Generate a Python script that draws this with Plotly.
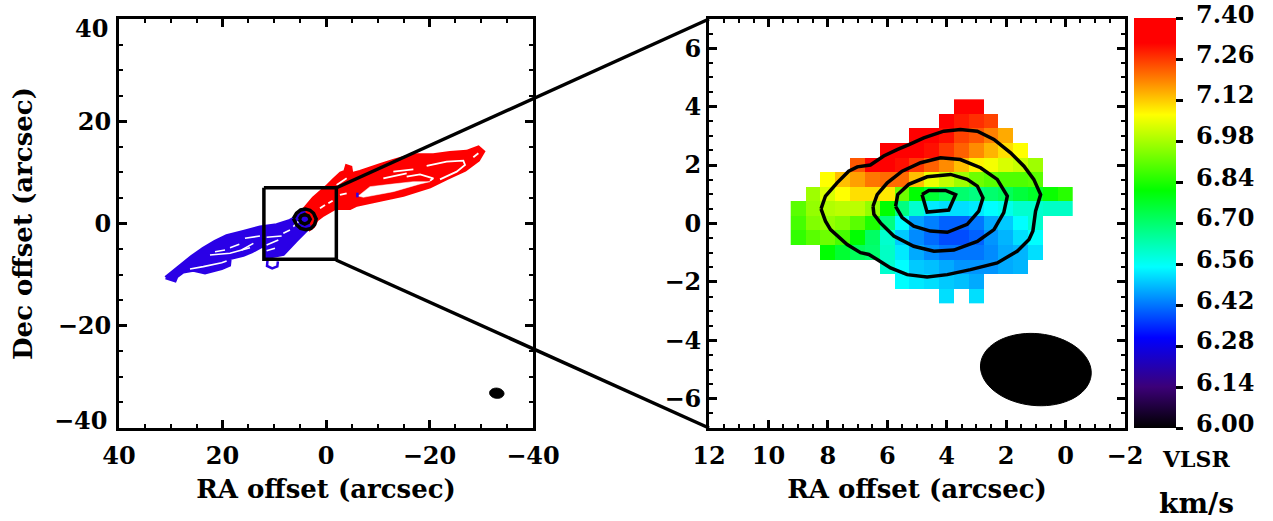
import numpy as np
import plotly.graph_objects as go

N = None
W, H = 1273, 521
FONT = "DejaVu Serif"
BLUE = "#2a00e6"

# ---- velocity map (km/s); columns are RA offsets, rows are Dec offsets
ra_cells = [9.0, 8.5, 8.0, 7.5, 7.0, 6.5, 6.0, 5.5, 5.0, 4.5, 4.0, 3.5, 3.0, 2.5, 2.0, 1.5, 1.0, 0.5, 0.0]
dec_cells = [4.0, 3.5, 3.0, 2.5, 2.0, 1.5, 1.0, 0.5, 0.0, -0.5, -1.0, -1.5, -2.0, -2.5]
row_p40 = [N, N, N, N, N, N, N, N, N, N, N, 7.33, 7.33, N, N, N, N, N, N]
row_p35 = [N, N, N, N, N, N, N, N, N, N, 7.33, 7.29, 7.27, 7.25, N, N, N, N, N]
row_p30 = [N, N, N, N, N, N, N, N, 7.33, 7.32, 7.30, 7.25, 7.23, 7.19, 7.15, N, N, N, N]
row_p25 = [N, N, N, N, N, N, 7.33, 7.33, 7.33, 7.30, 7.26, 7.22, 7.18, 7.14, 7.10, 7.07, N, N, N]
row_p20 = [N, N, N, N, 7.23, 7.33, 7.33, 7.30, 7.26, 7.22, 7.18, 7.13, 7.08, 7.06, 7.03, 7.01, 6.97, N, N]
row_p15 = [N, N, 7.07, 7.13, 7.16, 7.20, 7.21, 7.21, 7.13, 7.05, 7.01, 6.97, 6.92, 6.90, 6.89, 6.89, 6.90, N, N]
row_p10 = [N, 6.97, 7.03, 7.07, 7.10, 7.10, 7.09, 6.92, 6.81, 6.76, 6.72, 6.70, 6.68, 6.70, 6.72, 6.75, 6.77, 6.82, 6.85]
row_p05 = [6.90, 6.96, 6.99, 7.00, 7.00, 6.96, 6.81, 6.68, 6.60, 6.53, 6.52, 6.52, 6.53, 6.55, 6.57, 6.60, 6.60, 6.61, 6.61]
row_000 = [6.88, 6.94, 6.96, 6.94, 6.90, 6.84, 6.68, 6.55, 6.46, 6.43, 6.40, 6.40, 6.42, 6.47, 6.50, 6.55, 6.60, N, N]
row_m05 = [6.86, 6.90, 6.92, 6.88, 6.81, 6.71, 6.60, 6.50, 6.44, 6.41, 6.38, 6.38, 6.40, 6.45, 6.48, 6.52, 6.55, N, N]
row_m10 = [N, N, 6.81, 6.76, 6.72, 6.70, 6.61, 6.53, 6.47, 6.44, 6.42, 6.42, 6.42, 6.44, 6.47, 6.48, 6.52, N, N]
row_m15 = [N, N, N, N, N, N, 6.60, 6.55, 6.50, 6.49, 6.47, 6.45, 6.45, 6.45, 6.47, 6.48, N, N, N]
row_m20 = [N, N, N, N, N, N, N, 6.55, 6.53, 6.52, 6.50, 6.49, 6.47, N, N, N, N, N, N]
row_m25 = [N, N, N, N, N, N, N, N, N, N, 6.52, N, 6.52, N, N, N, N, N, N]
vlsr_rows = [row_p40, row_p35, row_p30, row_p25, row_p20, row_p15, row_p10, row_p05,
             row_000, row_m05, row_m10, row_m15, row_m20, row_m25]

colorbar_ticks = [7.40, 7.26, 7.12, 6.98, 6.84, 6.70, 6.56, 6.42, 6.28, 6.14, 6.00]
colorbar_text = ["7.40", "7.26", "7.12", "6.98", "6.84", "6.70", "6.56", "6.42", "6.28", "6.14", "6.00"]

# ---- continuum contours (RA, Dec in arcsec)
c1_ra = [8.23, 8.08, 7.69, 7.30, 7.01, 6.57, 6.12, 5.67, 5.27, 4.77, 4.10, 3.54, 2.97, 2.41, 1.85, 1.40, 1.07, 0.84, 1.01, 1.10, 1.23, 1.63, 2.30, 3.20, 3.98, 4.66, 5.33, 5.89, 6.34, 6.62, 6.90, 7.35, 7.91, 8.08, 8.23]
c1_dec = [0.50, 0.94, 1.39, 1.79, 1.94, 2.00, 2.31, 2.53, 2.70, 2.93, 3.16, 3.22, 3.16, 2.88, 2.42, 1.96, 1.51, 0.99, 0.42, -0.26, -0.55, -0.95, -1.35, -1.58, -1.75, -1.83, -1.75, -1.52, -1.23, -1.06, -1.00, -0.72, -0.21, 0.08, 0.50]
c2_ra = [6.48, 6.34, 6.00, 5.50, 4.88, 4.21, 3.54, 2.86, 2.30, 1.96, 2.08, 2.41, 2.97, 3.76, 4.43, 5.11, 5.78, 6.23, 6.45, 6.48]
c2_dec = [0.59, 0.99, 1.39, 1.79, 2.08, 2.25, 2.19, 1.91, 1.51, 0.94, 0.37, -0.21, -0.61, -0.91, -0.95, -0.78, -0.43, 0.02, 0.31, 0.59]
c3_ra = [5.72, 5.65, 5.28, 4.66, 3.87, 3.31, 2.97, 2.78, 2.92, 3.31, 3.98, 4.55, 5.11, 5.50, 5.72]
c3_dec = [0.59, 0.99, 1.34, 1.60, 1.68, 1.51, 1.28, 0.88, 0.42, -0.03, -0.30, -0.26, -0.09, 0.20, 0.59]
c4_ra = [4.83, 4.60, 4.04, 3.70, 3.93, 4.66, 4.83]
c4_dec = [0.99, 1.13, 1.13, 0.99, 0.46, 0.39, 0.99]

# the same source on the wide field map
ring_outer_ra = [6.3, 5.7, 4.9, 4.0, 3.1, 2.4, 1.9, 2.2, 2.9, 3.9, 4.9, 5.7, 6.3]
ring_outer_dec = [1.0, 2.0, 2.65, 2.85, 2.6, 2.0, 0.9, -0.2, -0.95, -1.2, -0.95, -0.25, 1.0]
ring_inner_ra = [5.15, 4.8, 4.1, 3.4, 3.05, 3.4, 4.1, 4.8, 5.15]
ring_inner_dec = [0.85, 1.5, 1.8, 1.5, 0.85, 0.2, -0.1, 0.2, 0.85]

# ---- outflow lobes (RA, Dec in arcsec)
red_ra = [4.51, 2.45, -0.13, -1.42, -2.83, -3.67, -3.99, -4.76, -4.96, -6.57, -10.44, -13.01, -16.88, -20.74, -23.96, -27.18, -29.44, -30.40, -29.44, -26.86, -23.32, -20.10, -14.95, -10.44, -5.93, -4.64, -1.74, 0.52, 1.80, 2.45, 3.10, 4.51]
red_dec = [2.45, 4.93, 7.21, 8.52, 9.82, 10.15, 11.26, 11.00, 9.69, 10.14, 11.45, 12.30, 13.40, 13.40, 13.86, 14.06, 14.90, 14.06, 12.43, 10.47, 8.84, 7.21, 5.58, 4.60, 3.62, 2.97, 2.97, 1.67, 0.69, -0.62, -1.07, 2.45]
blue_ra = [30.98, 29.18, 27.57, 25.96, 23.70, 21.45, 19.20, 15.97, 12.75, 9.53, 6.96, 5.35, 4.38, 3.22, 5.67, 8.25, 11.47, 11.98, 14.37, 15.97, 18.55, 18.68, 20.16, 23.38, 25.64, 27.57, 28.86, 29.18, 30.98]
blue_dec = [-10.60, -9.10, -7.79, -6.49, -4.86, -3.55, -2.44, -1.60, -0.75, -0.29, 0.56, 1.47, 2.45, -0.75, -3.23, -5.97, -6.62, -4.20, -5.51, -6.16, -6.81, -8.12, -8.77, -9.62, -9.10, -9.42, -10.40, -11.18, -10.60]
blue_loop_ra = [11.3, 11.4, 10.4, 9.4, 9.3]
blue_loop_dec = [-7.2, -8.3, -8.8, -8.4, -7.4]
blue_bit_ra = [-6.06, -6.06]
blue_bit_dec = [6.03, 5.12]

# gaps between the tightly packed lobe contours
red_hole_ra = [-6.25, -8.50, -12.37, -16.88, -20.10, -18.17, -13.01, -7.22, -6.25]
red_hole_dec = [5.38, 7.21, 7.66, 8.19, 8.19, 7.73, 6.23, 5.12, 5.38]
red_gaps = [
    ([-15.59, -18.17, -20.74, -20.10], [9.16, 9.62, 8.84, 8.38]),
    ([-19.45, -23.32, -26.54, -26.86, -25.25, -22.03], [11.25, 12.10, 12.30, 11.45, 10.14, 8.64]),
    ([-13.01, -16.88], [10.14, 10.60]),
    ([-28.47, -29.44], [12.95, 13.73]),
    ([-11.08, -15.59], [8.84, 9.82]),
    ([1.16, 0.19], [2.97, 3.62]),
    ([-0.45, -1.29], [3.95, 4.47]),
    ([-2.70, -3.99], [5.58, 5.91]),
    ([-2.06, -3.99], [7.54, 8.84]),
]
blue_gaps = [
    ([26.28, 23.71, 20.16, 19.20], [-8.90, -8.44, -7.66, -7.33]),
    ([21.45, 19.52], [-5.51, -5.18]),
    ([18.55, 16.75], [-4.73, -4.07]),
    ([16.30, 14.04], [-5.18, -3.88]),
    ([15.66, 12.76], [-2.90, -2.44]),
    ([22.42, 18.55, 14.69], [-6.16, -5.83, -4.73]),
    ([11.47, 8.57], [-2.70, -2.44]),
    ([11.47, 9.21], [-4.20, -3.23]),
    ([11.47, 9.86], [-5.31, -4.86]),
    ([8.25, 6.96], [-1.92, -1.27]),
    ([6.31, 5.35], [-0.62, 0.36]),
]

# ---- synthesized beam: centre RA, centre Dec, semi-major, semi-minor, tilt in degrees
beam_right = (1.0, -5.0, 1.87, 1.23, 6)
beam_left = (-33.0, -33.2, 1.40, 1.00, 6)

colorscale = [
    [0.0, "#000000"], [0.10, "#3c0078"], [0.22, "#0000ff"], [0.307, "#0080ff"], [0.393, "#00ffff"],
    [0.486, "#00ff80"], [0.579, "#00ff00"], [0.671, "#80ff00"], [0.764, "#ffff00"],
    [0.85, "#ff8000"], [0.939, "#ff0000"], [1.0, "#ff0000"],
]


def ellipse(cx, cy, a, b, tilt):
    t = np.linspace(0, 2 * np.pi, 73)
    p = np.radians(tilt)
    return (cx + a * np.cos(t) * np.cos(p) - b * np.sin(t) * np.sin(p),
            cy + a * np.cos(t) * np.sin(p) + b * np.sin(t) * np.cos(p))


def line(x, y, color, width, xa, ya, fill=False):
    return go.Scatter(x=x, y=y, mode="lines", xaxis=xa, yaxis=ya, hoverinfo="skip", showlegend=False,
                      line=dict(color=color, width=width, simplify=False),
                      fill="toself" if fill else None, fillcolor=color if fill else None)


fig = go.Figure()
# left panel
fig.add_trace(line(red_ra, red_dec, "#ff0000", 3.5, "x", "y", True))
for gx, gy in red_gaps:
    fig.add_trace(line(gx, gy, "#ffffff", 1.8, "x", "y"))
fig.add_trace(line(red_hole_ra, red_hole_dec, "#ffffff", 0.5, "x", "y", True))
fig.add_trace(line(blue_bit_ra, blue_bit_dec, BLUE, 2.5, "x", "y"))
fig.add_trace(line(blue_ra, blue_dec, BLUE, 3.5, "x", "y", True))
for gx, gy in blue_gaps:
    fig.add_trace(line(gx, gy, "#ffffff", 1.6, "x", "y"))
fig.add_trace(line(blue_loop_ra, blue_loop_dec, BLUE, 2.5, "x", "y"))
fig.add_trace(go.Scatter(x=[4.1], y=[0.8], mode="markers", marker=dict(color=BLUE, size=7), xaxis="x", yaxis="y",
                         hoverinfo="skip", showlegend=False))
fig.add_trace(line(ring_outer_ra, ring_outer_dec, "#000000", 3.5, "x", "y"))
fig.add_trace(line(ring_inner_ra, ring_inner_dec, "#000000", 3.5, "x", "y"))
bx, by = ellipse(*beam_left)
fig.add_trace(line(bx, by, "#000000", 1, "x", "y", True))
fig.add_trace(line([12, -2, -2, 12, 12], [7, 7, -7, -7, 7], "#000000", 3.5, "x", "y"))

# right panel
fig.add_trace(go.Heatmap(x=ra_cells, y=dec_cells, z=vlsr_rows, xaxis="x2", yaxis="y2", zmin=6.0, zmax=7.4,
                         colorscale=colorscale, hoverongaps=False,
                         colorbar=dict(x=1134 / W, xanchor="left", xpad=0, y=1 - 223 / H, yanchor="middle",
                                       len=410 / H, lenmode="fraction", ypad=0, thickness=42, thicknessmode="pixels",
                                       outlinewidth=0, tickmode="array", tickvals=colorbar_ticks, ticks="outside",
                                       ticklen=7, tickwidth=3, tickcolor="#000000", showticklabels=False)))
for cx, cy in [(c1_ra, c1_dec), (c2_ra, c2_dec), (c3_ra, c3_dec), (c4_ra, c4_dec)]:
    fig.add_trace(line(cx, cy, "#000000", 3.5, "x2", "y2"))
bx, by = ellipse(*beam_right)
fig.add_trace(line(bx, by, "#000000", 1, "x2", "y2", True))

tick_font = dict(family=FONT, size=24, color="#000000", weight="bold")
title_font = dict(family=FONT, size=26, color="#000000", weight="bold")
axis_common = dict(showline=True, linecolor="#000000", linewidth=3, mirror="allticks", ticks="inside",
                   tickcolor="#000000", tickwidth=2.5, ticklen=8, showgrid=False, zeroline=False,
                   tickfont=tick_font, tickmode="array")


def title(text, standoff):
    return dict(text=text, font=title_font, standoff=standoff)


def minor(step):
    return dict(ticks="inside", dtick=step, ticklen=4, tickwidth=2, tickcolor="#000000", showgrid=False)


fig.update_layout(
    width=W, height=H, margin=dict(l=0, r=0, t=0, b=0, autoexpand=False), paper_bgcolor="#ffffff",
    plot_bgcolor="#ffffff", showlegend=False,
    xaxis=dict(domain=[119 / W, 533 / W], range=[40, -40], anchor="y", tickvals=[40, 20, 0, -20, -40],
               ticktext=["40", "20", "0", "\u221220", "\u221240"], title=title("RA offset (arcsec)", 12),
               minor=minor(5), ticklabelstandoff=4, **axis_common),
    yaxis=dict(domain=[1 - 428 / H, 1 - 19 / H], range=[-40, 40], anchor="x", tickvals=[40, 20, 0, -20, -40],
               ticktext=["", "20", "0", "\u221220", ""], title=title("Dec offset (arcsec)", 18),
               minor=minor(5), **axis_common),
    xaxis2=dict(domain=[709 / W, 1125 / W], range=[12, -2], anchor="y2", tickvals=[12, 10, 8, 6, 4, 2, 0, -2],
                ticktext=["12", "10", "8", "6", "4", "2", "0", "\u22122"], title=title("RA offset (arcsec)", 12),
                minor=minor(0.5), ticklabelstandoff=4, **axis_common),
    yaxis2=dict(domain=[1 - 428 / H, 1 - 19 / H], range=[-7, 7], anchor="x2", tickvals=[6, 4, 2, 0, -2, -4, -6],
                ticktext=["6", "4", "2", "0", "\u22122", "\u22124", "\u22126"],
                minor=minor(0.5), **axis_common),
)

# zoom connectors between the box on the left and the panel on the right
for y0, y1 in [(188, 19), (260, 428)]:
    fig.add_shape(type="line", xref="paper", yref="paper", x0=336 / W, x1=709 / W, y0=1 - y0 / H, y1=1 - y1 / H,
                  line=dict(color="#000000", width=3.5))

# corner tick labels of the left panel sit inside the axis range
for val, txt, py in [(40, "40", 28), (-40, "\u221240", 420)]:
    fig.add_annotation(xref="paper", yref="paper", x=110 / W, y=1 - py / H, xanchor="right", yanchor="middle",
                       text=txt, showarrow=False, font=tick_font)

# colour bar labels
bar_top, bar_bottom = 1 - 18 / H, 1 - 428 / H
for val, txt in zip(colorbar_ticks, colorbar_text):
    fig.add_annotation(xref="paper", yref="paper", x=1194 / W, xanchor="left",
                       y=bar_bottom + (val - 6.0) / 1.4 * (bar_top - bar_bottom), yanchor="middle",
                       yshift=3 if val == 7.40 else 5, text=txt, showarrow=False, font=tick_font)
fig.add_annotation(xref="paper", yref="paper", x=1196 / W, y=1 - 459 / H, text="VLSR", showarrow=False,
                   font=dict(family=FONT, size=22, color="#000000", weight="bold"), xanchor="center", yanchor="middle")
fig.add_annotation(xref="paper", yref="paper", x=1196 / W, y=1 - 503 / H, text="km/s", showarrow=False,
                   font=dict(family=FONT, size=28, color="#000000", weight="bold"), xanchor="center", yanchor="middle")

fig.write_html("out.html", post_script="document.body.style.margin='0';", config={"displayModeBar": False})
